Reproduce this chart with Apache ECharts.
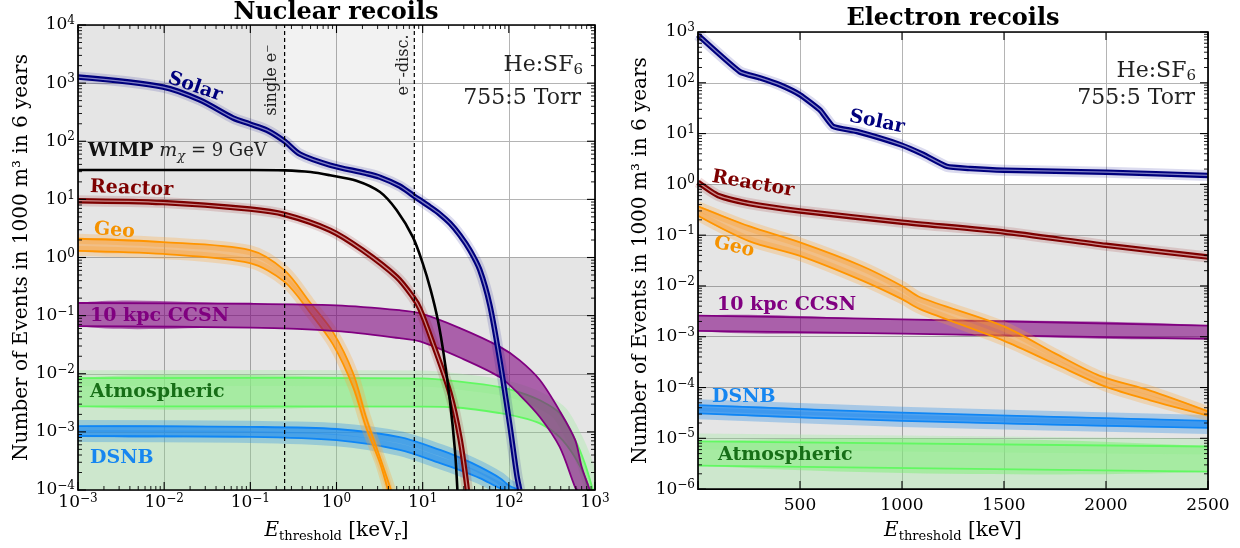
<!DOCTYPE html>
<html><head><meta charset="utf-8">
<script src="https://cdn.jsdelivr.net/npm/echarts@6/dist/echarts.min.js"></script>
<style>html,body{margin:0;padding:0;background:#fff}#c{width:1240px;height:548px}</style>
</head><body><div id="c"></div>
<script>
// ================= DATA: Nuclear recoils (left panel) =================
const nrXRange = [1e-3, 1e3];
const nrYRange = [1e-4, 1e4];
const nrXMajor = [1e-3, 1e-2, 1e-1, 1, 10, 100, 1000];
const nrYMajor = [1e-4, 1e-3, 1e-2, 1e-1, 1, 10, 100, 1000, 1e4];
const nrSingleE = 0.25;      // single e- threshold [keVr]
const nrEDisc = 8;           // e- discrimination threshold [keVr]
const nrBgLevel = 1;         // 1 event line

const nrSolarX = [0.001, 0.0097, 0.026, 0.063, 0.099, 0.156, 0.25, 0.377, 0.84, 2.2, 3.2, 5.4, 7.7, 12.2, 15.8, 20.7, 27, 35.3, 46.1, 60.2, 78.6, 102.7, 123.8, 134];
const nrSolarY = [1270, 857, 512, 252, 198, 155, 100, 60, 39, 28, 24, 17, 11.8, 7.4, 5.6, 3.9, 2.43, 1.34, 0.61, 0.152, 0.0171, 0.0013, 0.00018, 0.0001];

const nrWimpX = [0.001, 0.01, 0.1, 0.25, 0.5, 0.84, 1.7, 3.2, 5.0, 7.7, 10, 12.4, 15, 17.6, 20.7, 23.7, 25.3];
const nrWimpY = [32, 32, 32, 31.5, 29.5, 26, 21, 13.4, 6.5, 2.24, 0.8, 0.275, 0.084, 0.021, 0.0035, 0.00048, 0.0001];

const nrReactorX = [0.001, 0.0097, 0.099, 0.25, 0.84, 2.0, 5.0, 7.7, 9.3, 13.1, 20.7, 27, 33];
const nrReactorY = [9.5, 8.8, 6.8, 5.5, 2.95, 1.34, 0.46, 0.21, 0.13, 0.034, 0.0047, 0.0008, 0.0001];

const nrGeoHiX = [0.001, 0.0097, 0.099, 0.25, 0.49, 0.91, 1.56, 2.2, 3.2, 4.3];
const nrGeoHiY = [2.1, 1.84, 1.34, 0.6, 0.17, 0.052, 0.0102, 0.0018, 0.00036, 0.0001];
const nrGeoLoX = [0.001, 0.0097, 0.099, 0.25, 0.49, 0.91, 1.56, 2.2, 3.2, 3.95];
const nrGeoLoY = [1.3, 1.15, 0.8, 0.38, 0.114, 0.032, 0.0059, 0.0012, 0.00029, 0.0001];

const nrCcsnHiX = [0.001, 0.1, 1, 5.4, 9.3, 27, 79, 134, 229, 389, 590, 700, 870];
const nrCcsnHiY = [0.165, 0.16, 0.15, 0.124, 0.11, 0.061, 0.029, 0.017, 0.0078, 0.0023, 0.00072, 0.00025, 0.0001];
const nrCcsnLoX = [0.001, 0.1, 1, 5.4, 9.3, 27, 79, 134, 229, 389, 590, 625];
const nrCcsnLoY = [0.066, 0.062, 0.054, 0.041, 0.036, 0.019, 0.0087, 0.0043, 0.0018, 0.00055, 0.00011, 0.0001];

const nrAtmHiX = [0.001, 10, 27, 79, 134, 229, 389, 590, 760, 945];
const nrAtmHiY = [0.0084, 0.0083, 0.0073, 0.0059, 0.0048, 0.0035, 0.0021, 0.00072, 0.00029, 0.0001];
const nrAtmLoX = [0.001, 10, 27, 79, 134, 229, 389, 590, 760, 820];
const nrAtmLoY = [0.00275, 0.00272, 0.0026, 0.0021, 0.0018, 0.0014, 0.00081, 0.00036, 0.00017, 0.0001];

const nrDsnbHiX = [0.001, 0.1, 1, 5.4, 15.9, 27, 46, 79, 100, 134];
const nrDsnbHiY = [0.00126, 0.00122, 0.00112, 0.00081, 0.00049, 0.00036, 0.00025, 0.00016, 0.00012, 0.0001];
const nrDsnbLoX = [0.001, 0.1, 1, 5.4, 15.9, 27, 46, 79, 92];
const nrDsnbLoY = [0.00085, 0.00082, 0.00072, 0.00049, 0.00029, 0.00022, 0.00016, 0.000107, 0.0001];

// ================= DATA: Electron recoils (right panel) =================
const erXRange = [0, 2500];
const erYRange = [1e-6, 1e3];
const erXMajor = [0, 500, 1000, 1500, 2000, 2500];
const erYMajor = [1e-6, 1e-5, 1e-4, 1e-3, 1e-2, 1e-1, 1, 10, 100, 1000];
const erBgLevel = 1;

const erSolarX = [0, 206, 304, 402, 500, 598, 662, 779, 990, 1103, 1220, 1333, 1500, 2000, 2500];
const erSolarY = [870, 164, 125, 91, 58, 29, 13.8, 11, 6.1, 3.9, 2.25, 2.05, 1.9, 1.74, 1.5];

const erReactorX = [0, 100, 250, 500, 1000, 1500, 2000, 2500];
const erReactorY = [1.1, 0.6, 0.42, 0.3, 0.18, 0.115, 0.063, 0.037];

const erGeoHiX = [0, 250, 500, 800, 1000, 1088, 1500, 1750, 1970, 2216, 2500];
const erGeoHiY = [0.37, 0.15, 0.072, 0.025, 0.010, 0.0060, 0.0016, 0.00047, 0.00017, 0.000087, 0.000034];
const erGeoLoX = [0, 250, 500, 800, 1000, 1088, 1500, 1750, 1995, 2216, 2500];
const erGeoLoY = [0.24, 0.076, 0.039, 0.013, 0.0055, 0.0035, 0.00083, 0.00029, 0.000105, 0.000056, 0.000028];

const erCcsnX = [0, 1000, 2500];
const erCcsnHiY = [0.0026, 0.0022, 0.00166];
const erCcsnLoY = [0.0013, 0.00115, 0.00091];

const erDsnbX = [0, 1000, 2500];
const erDsnbHiY = [0.000045, 0.000032, 0.000022];
const erDsnbLoY = [0.000031, 0.000022, 0.000016];

const erAtmX = [0, 2500];
const erAtmHiY = [0.0000087, 0.0000069];
const erAtmLoY = [0.0000029, 0.0000022];

// ================= helpers =================
const FAM = "'DejaVu Serif', serif";
const fnt = (size, weight, style) => [(style || 'normal'), (weight || 'normal'), size + 'px', FAM].join(' ');
const zip = (xs, ys) => xs.map((x, i) => [x, ys[i]]);
const minorOf = majors => {
  const out = [];
  for (let i = 0; i < majors.length - 1; i++) for (let k = 2; k <= 9; k++) out.push(majors[i] * k);
  return out;
};
const SM = 0.3;

function lineS(ax, xs, ys, color, width, z, smooth) {
  return { type: 'line', xAxisIndex: ax, yAxisIndex: ax, data: zip(xs, ys), symbol: 'none', showSymbol: false,
    smooth: smooth, clip: true, silent: true, z: z, animation: false,
    lineStyle: { color: color, width: width, cap: 'butt', join: 'round' } };
}
function tube(ax, xs, ys, main, mid, halo, z, smooth) {
  return [lineS(ax, xs, ys, halo, 11, z, smooth), lineS(ax, xs, ys, main, 5.5, z + 0.1, smooth), lineS(ax, xs, ys, mid, 1.3, z + 0.2, smooth)];
}
function band(ax, hiX, hiY, loX, loY, st, z, yFloor) {
  return { type: 'custom', xAxisIndex: ax, yAxisIndex: ax, z: z, clip: true, silent: true, animation: false,
    data: [[hiX[0], hiY[0]]],
    renderItem: function (params, api) {
      const hi = hiX.map((x, i) => api.coord([x, hiY[i]]));
      const lo = loX.map((x, i) => api.coord([x, loY[i]]));
      const ch = [];
      if (st.under) {
        const floor = [api.coord([hiX[hiX.length - 1], yFloor]), api.coord([hiX[0], yFloor])];
        ch.push({ type: 'polyline', shape: { points: hi, smooth: SM }, style: { stroke: st.under, lineWidth: st.underW, fill: null } });
        ch.push({ type: 'polygon', shape: { points: hi.concat(floor), smooth: 0 }, style: { fill: st.under } });
      }
      if (st.halo) {
        ch.push({ type: 'polyline', shape: { points: hi, smooth: SM }, style: { stroke: st.halo, lineWidth: st.haloW, fill: null } });
        ch.push({ type: 'polyline', shape: { points: lo, smooth: SM }, style: { stroke: st.halo, lineWidth: st.haloW, fill: null } });
      }
      ch.push({ type: 'polygon', shape: { points: hi.concat(lo.slice().reverse()), smooth: SM }, style: { fill: st.fill } });
      ch.push({ type: 'polyline', shape: { points: hi, smooth: SM }, style: { stroke: st.line, lineWidth: st.lw, fill: null } });
      ch.push({ type: 'polyline', shape: { points: lo, smooth: SM }, style: { stroke: st.line, lineWidth: st.lw, fill: null } });
      return { type: 'group', children: ch };
    } };
}
function shade(ax, rects, z) {
  return { type: 'custom', xAxisIndex: ax, yAxisIndex: ax, z: z, clip: true, silent: true, animation: false,
    data: rects.map((r, i) => [i]),
    renderItem: function (params, api) {
      const r = rects[params.dataIndex];
      const p0 = api.coord([r[0], r[3]]), p1 = api.coord([r[1], r[2]]);
      return { type: 'rect', shape: { x: p0[0], y: p0[1], width: p1[0] - p0[0], height: p1[1] - p0[1] }, style: { fill: r[4] } };
    } };
}
function vlines(ax, xs, yr, z) {
  return xs.map(x => ({ type: 'line', xAxisIndex: ax, yAxisIndex: ax, data: [[x, yr[0]], [x, yr[1]]], symbol: 'none',
    silent: true, z: z, animation: false, lineStyle: { color: '#000', width: 1.2, type: [4, 3] } }));
}
function frame(ax, xMaj, xMin, yMaj, yMin) {
  return { type: 'custom', xAxisIndex: ax, yAxisIndex: ax, z: 50, silent: true, animation: false,
    data: [[xMaj[1], yMaj[1]]],
    renderItem: function (params, api) {
      const r = params.coordSys, ch = [];
      const seg = (x1, y1, x2, y2, w) => ch.push({ type: 'line', shape: { x1: x1, y1: y1, x2: x2, y2: y2 }, style: { stroke: '#000', lineWidth: w } });
      const bx = (vals, L, w) => vals.forEach(v => { const x = api.coord([v, yMaj[0]])[0]; seg(x, r.y + r.height, x, r.y + r.height - L, w); seg(x, r.y, x, r.y + L, w); });
      const by = (vals, L, w) => vals.forEach(v => { const y = api.coord([xMaj[0], v])[1]; seg(r.x, y, r.x + L, y, w); seg(r.x + r.width, y, r.x + r.width - L, y, w); });
      bx(xMaj, 8, 1.1); bx(xMin, 4, 0.9); by(yMaj, 8, 1.1); by(yMin, 4, 0.9);
      ch.push({ type: 'rect', shape: { x: r.x, y: r.y, width: r.width, height: r.height }, style: { fill: null, stroke: '#000', lineWidth: 1.7 } });
      return { type: 'group', children: ch };
    } };
}

const supTxt = e => (e < 0 ? '\u2212' + (-e) : '' + e);
const logLabel = v => '{b|10}{s|' + supTxt(Math.round(Math.log10(v))) + '}';
const tickRich = { b: { fontFamily: FAM, fontSize: 17, lineHeight: 20, color: '#000' },
                   s: { fontFamily: FAM, fontSize: 12, lineHeight: 8, verticalAlign: 'top', color: '#000' } };
const nameRich = { i: { fontFamily: FAM, fontStyle: 'italic', fontSize: 20, lineHeight: 24, color: '#000' },
                   s: { fontFamily: FAM, fontSize: 13, lineHeight: 12, verticalAlign: 'bottom', color: '#000' } };
const yName = 'Number of Events in 1000 m\u00b3 in 6 years';
const split = { show: true, lineStyle: { color: '#b4b4b4', width: 1 } };

// ================= colors =================
const C = {
  solar: '#00007d', solarMid: '#8080c4', solarHalo: 'rgba(0,0,140,0.14)',
  reactor: '#7d0000', reactorMid: '#c98a8a', reactorHalo: 'rgba(140,0,0,0.14)',
  geoLine: '#ff9500', geoFill: 'rgba(255,145,20,0.45)', geoHalo: 'rgba(255,165,50,0.28)',
  ccsnLine: '#800080', ccsnFill: 'rgba(128,0,128,0.58)',
  atmLine: '#62f862', atmFill: 'rgba(120,240,110,0.45)', atmUnder: 'rgba(160,235,160,0.35)',
  dsnbLine: '#0f86f5', dsnbFill: 'rgba(15,132,245,0.58)', dsnbHalo: 'rgba(40,140,230,0.32)',
  gray: 'rgba(0,0,0,0.1)', lightGray: 'rgba(0,0,0,0.05)'
};

const series = [].concat(
  // ---- left ----
  shade(0, [[nrXRange[0], nrSingleE, nrBgLevel, nrYRange[1], C.gray],
            [nrSingleE, nrEDisc, nrBgLevel, nrYRange[1], C.lightGray],
            [nrXRange[0], nrXRange[1], nrYRange[0], nrBgLevel, C.gray]], 1),
  band(0, nrAtmHiX, nrAtmHiY, nrAtmLoX, nrAtmLoY, { under: C.atmUnder, underW: 16, fill: C.atmFill, line: C.atmLine, lw: 1.8 }, 2, nrYRange[0]),
  band(0, nrDsnbHiX, nrDsnbHiY, nrDsnbLoX, nrDsnbLoY, { halo: C.dsnbHalo, haloW: 12, fill: C.dsnbFill, line: C.dsnbLine, lw: 1.8 }, 3),
  band(0, nrGeoHiX, nrGeoHiY, nrGeoLoX, nrGeoLoY, { halo: C.geoHalo, haloW: 10, fill: C.geoFill, line: C.geoLine, lw: 1.8 }, 4),
  band(0, nrCcsnHiX, nrCcsnHiY, nrCcsnLoX, nrCcsnLoY, { fill: C.ccsnFill, line: C.ccsnLine, lw: 1.8 }, 5),
  tube(0, nrReactorX, nrReactorY, C.reactor, C.reactorMid, C.reactorHalo, 6, 0.3),
  [lineS(0, nrWimpX, nrWimpY, '#000', 2.6, 7, 0.3)],
  tube(0, nrSolarX, nrSolarY, C.solar, C.solarMid, C.solarHalo, 8, 0.3),
  vlines(0, [nrSingleE, nrEDisc], nrYRange, 9),
  [frame(0, nrXMajor, minorOf(nrXMajor), nrYMajor, minorOf(nrYMajor))],
  // ---- right ----
  shade(1, [[erXRange[0], erXRange[1], erYRange[0], erBgLevel, C.gray]], 1),
  band(1, erAtmX, erAtmHiY, erAtmX, erAtmLoY, { under: C.atmUnder, underW: 16, fill: C.atmFill, line: C.atmLine, lw: 1.8 }, 2, erYRange[0]),
  band(1, erDsnbX, erDsnbHiY, erDsnbX, erDsnbLoY, { halo: C.dsnbHalo, haloW: 12, fill: C.dsnbFill, line: C.dsnbLine, lw: 1.8 }, 3),
  band(1, erCcsnX, erCcsnHiY, erCcsnX, erCcsnLoY, { fill: C.ccsnFill, line: C.ccsnLine, lw: 1.8 }, 4),
  band(1, erGeoHiX, erGeoHiY, erGeoLoX, erGeoLoY, { halo: C.geoHalo, haloW: 10, fill: C.geoFill, line: C.geoLine, lw: 1.8 }, 5),
  tube(1, erReactorX, erReactorY, C.reactor, C.reactorMid, C.reactorHalo, 6, 0.2),
  tube(1, erSolarX, erSolarY, C.solar, C.solarMid, C.solarHalo, 8, 0.15),
  [frame(1, erXMajor, [], erYMajor, minorOf(erYMajor))]
);

// ================= text annotations =================
function T(x, y, text, o) {
  o = o || {};
  const style = { text: text, x: 0, y: 0, fill: o.color || '#000', font: o.font || fnt(19, 'bold'),
    align: o.align || 'left', textAlign: o.align || 'left', verticalAlign: 'middle', textVerticalAlign: 'middle' };
  if (o.rich) style.rich = o.rich;
  return { type: 'text', x: x, y: y, rotation: o.rot || 0, z: 100, silent: true, style: style };
}
const subRich = (size, color) => ({ n: { font: fnt(size), fill: color, lineHeight: 26 },
  s: { font: fnt(Math.round(size * 0.68)), fill: color, lineHeight: 12, verticalAlign: 'bottom' } });
const wimpRich = { b: { font: fnt(19, 'bold'), fill: '#111', lineHeight: 24 },
  i: { font: fnt(19, 'normal', 'italic'), fill: '#222', lineHeight: 24 },
  s: { font: fnt(13, 'normal', 'italic'), fill: '#222', lineHeight: 12, verticalAlign: 'bottom' },
  n: { font: fnt(18), fill: '#222', lineHeight: 24 } };

const graphic = [
  T(336, 13, 'Nuclear recoils', { font: fnt(24, 'bold'), align: 'center' }),
  T(953, 19, 'Electron recoils', { font: fnt(24, 'bold'), align: 'center' }),
  // left
  T(195, 87, 'Solar', { color: C.solar, rot: -0.33, align: 'center' }),
  T(88, 151, '{b|WIMP} {i|m}{s|\u03c7}{n| = 9 GeV}', { rich: wimpRich, font: fnt(18) }),
  T(90, 187, 'Reactor', { color: '#7d0000', rot: -0.04 }),
  T(94, 229, 'Geo', { color: '#f59200', rot: -0.08 }),
  T(90, 316, '10 kpc CCSN', { color: '#800080' }),
  T(90, 392, 'Atmospheric', { color: '#176f17' }),
  T(90, 458, 'DSNB', { color: '#1686f0' }),
  T(272, 80, 'single e\u207b', { font: fnt(16), rot: Math.PI / 2, align: 'center', color: '#222' }),
  T(404, 65, 'e\u207b-disc.', { font: fnt(16), rot: Math.PI / 2, align: 'center', color: '#222' }),
  T(583, 65, '{n|He:SF}{s|6}', { rich: subRich(22, '#222'), font: fnt(22), align: 'right' }),
  T(581, 98, '755:5 Torr', { font: fnt(22), align: 'right', color: '#222' }),
  // right
  T(877, 122, 'Solar', { color: C.solar, rot: -0.2, align: 'center' }),
  T(753, 184, 'Reactor', { color: '#7d0000', rot: -0.17, align: 'center' }),
  T(734, 247, 'Geo', { color: '#f59200', rot: -0.23, align: 'center' }),
  T(717, 305, '10 kpc CCSN', { color: '#800080' }),
  T(712, 397, 'DSNB', { color: '#1686f0' }),
  T(718, 455, 'Atmospheric', { color: '#176f17' }),
  T(1196, 71, '{n|He:SF}{s|6}', { rich: subRich(22, '#222'), font: fnt(22), align: 'right' }),
  T(1195, 98, '755:5 Torr', { font: fnt(22), align: 'right', color: '#222' })
];

const chart = echarts.init(document.getElementById('c'), null, { renderer: 'canvas' });
chart.setOption({
  animation: false,
  backgroundColor: '#fff',
  textStyle: { fontFamily: FAM },
  grid: [{ left: 78, top: 25, width: 517, height: 466 }, { left: 698, top: 32, width: 510, height: 459 }],
  xAxis: [
    { type: 'log', logBase: 10, gridIndex: 0, min: nrXRange[0], max: nrXRange[1], splitNumber: 6,
      axisLine: { show: false }, axisTick: { show: false }, splitLine: split,
      axisLabel: { formatter: logLabel, rich: tickRich, margin: 3 },
      name: '{i|E}{s|threshold} [keV{s|r}]', nameLocation: 'middle', nameGap: 29,
      nameTextStyle: { fontFamily: FAM, fontSize: 20, color: '#000', lineHeight: 24, rich: nameRich } },
    { type: 'value', gridIndex: 1, min: erXRange[0], max: erXRange[1], interval: 500,
      axisLine: { show: false }, axisTick: { show: false }, splitLine: split,
      axisLabel: { formatter: v => (v === 0 ? '' : String(v)), fontFamily: FAM, fontSize: 17, color: '#000', margin: 8 },
      name: '{i|E}{s|threshold} [keV]', nameLocation: 'middle', nameGap: 29,
      nameTextStyle: { fontFamily: FAM, fontSize: 20, color: '#000', lineHeight: 24, rich: nameRich } }
  ],
  yAxis: [
    { type: 'log', logBase: 10, gridIndex: 0, min: nrYRange[0], max: nrYRange[1], splitNumber: 8,
      axisLine: { show: false }, axisTick: { show: false }, splitLine: split,
      axisLabel: { formatter: logLabel, rich: tickRich, margin: 3 },
      name: yName, nameLocation: 'middle', nameGap: 45,
      nameTextStyle: { fontFamily: FAM, fontSize: 20, color: '#000' } },
    { type: 'log', logBase: 10, gridIndex: 1, min: erYRange[0], max: erYRange[1], splitNumber: 9,
      axisLine: { show: false }, axisTick: { show: false }, splitLine: split,
      axisLabel: { formatter: logLabel, rich: tickRich, margin: 3 },
      name: yName, nameLocation: 'middle', nameGap: 47,
      nameTextStyle: { fontFamily: FAM, fontSize: 20, color: '#000' } }
  ],
  series: series,
  graphic: graphic
});
</script>
</body></html>
